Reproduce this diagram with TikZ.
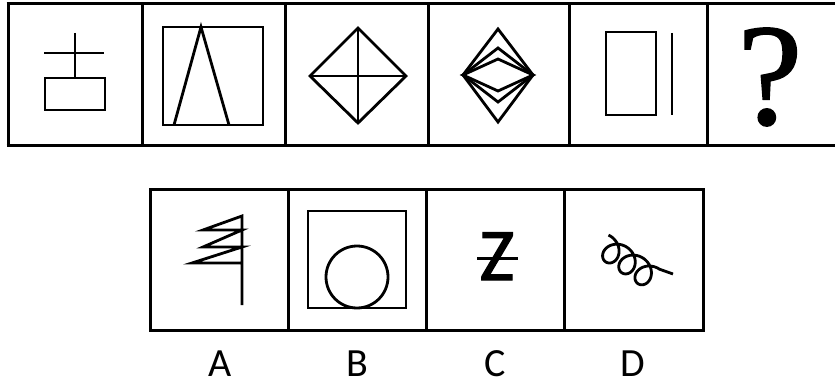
\documentclass[tikz,border=0pt]{standalone}
\usepackage{fontspec}
\setmainfont{Carlito}
\newfontfamily\qfont[FakeBold=1.2]{Liberation Serif}
\newfontfamily\zfont[FakeBold=1.6]{Carlito}
\begin{document}
\begin{tikzpicture}[x=1pt,y=-1pt,
  frame/.style={line width=3pt},
  fig/.style={line width=2.8pt, line join=miter},
  lab/.style={inner sep=0pt, anchor=base, font=\fontsize{40}{40}\selectfont}]
\useasboundingbox (0,0) rectangle (835,385);
% top row frame
\draw[frame] (6.5,4) -- (836,4) (6.5,146) -- (836,146);
\foreach \x in {8,142,285,428,569,707} \draw[frame] (\x,4) -- (\x,146);
% cell 1
\draw[fig] (44,53) -- (104,53) (75,33) -- (75,78);
\draw[fig] (45,78) rectangle (105,110);
% cell 2
\draw[fig] (163,27) rectangle (263,125);
\draw[fig] (174,125) -- (201,27) -- (229,125);
% cell 3
\draw[fig] (358,28) -- (406,76) -- (358,123) -- (310,76) -- cycle;
\draw[fig] (358,28) -- (358,123) (310,76) -- (406,76);
% cell 4
\draw[fig] (498,29) -- (533,75) -- (498,122) -- (463,75) -- cycle;
\draw[fig] (463,75) -- (498,48) -- (533,75) -- (498,102) -- cycle;
\draw[fig] (463,75) -- (498,59) -- (533,75) -- (498,91) -- cycle;
% cell 5
\draw[fig] (606,32) rectangle (656,115);
\draw[fig] (672,33) -- (672,115);
% cell 6
\node[inner sep=0pt, anchor=base, font=\qfont\fontsize{145}{145}\selectfont] (q) at (770,124) {?};
% bottom row frame
\draw[frame] (150,189) rectangle (703,330);
\foreach \x in {288,426,564} \draw[frame] (\x,189) -- (\x,330);
% A
\draw[fig] (242,305) -- (242,216) -- (203,230) -- (242,230) -- (203,247) -- (242,247) -- (192,263) -- (242,263);
% B
\draw[fig] (308,211) rectangle (406,308);
\draw[fig] (357,277) circle (31);
% C
\node[inner sep=0pt, anchor=base, font=\zfont\fontsize{74}{74}\selectfont] (z) at (497,280) {Z};
\draw[line width=3pt] (477,258) -- (518,258);
% D
\draw[line width=2.8pt, smooth, samples=180, domain=2.95:21.99, variable=\t]
  plot ({596.2 + (3.1*\t - 12*sin(\t r))*0.83 - (12*cos(\t r))*0.56},
        {241 + (3.1*\t - 12*sin(\t r))*0.56 + (12*cos(\t r))*0.83})
  -- (673,274);
% labels
\node[lab] (la) at (220,376) {A};
\node[lab] (lb) at (357,376) {B};
\node[lab] (lc) at (495,376) {C};
\node[lab] (ld) at (633,376) {D};
\end{tikzpicture}
\end{document}
